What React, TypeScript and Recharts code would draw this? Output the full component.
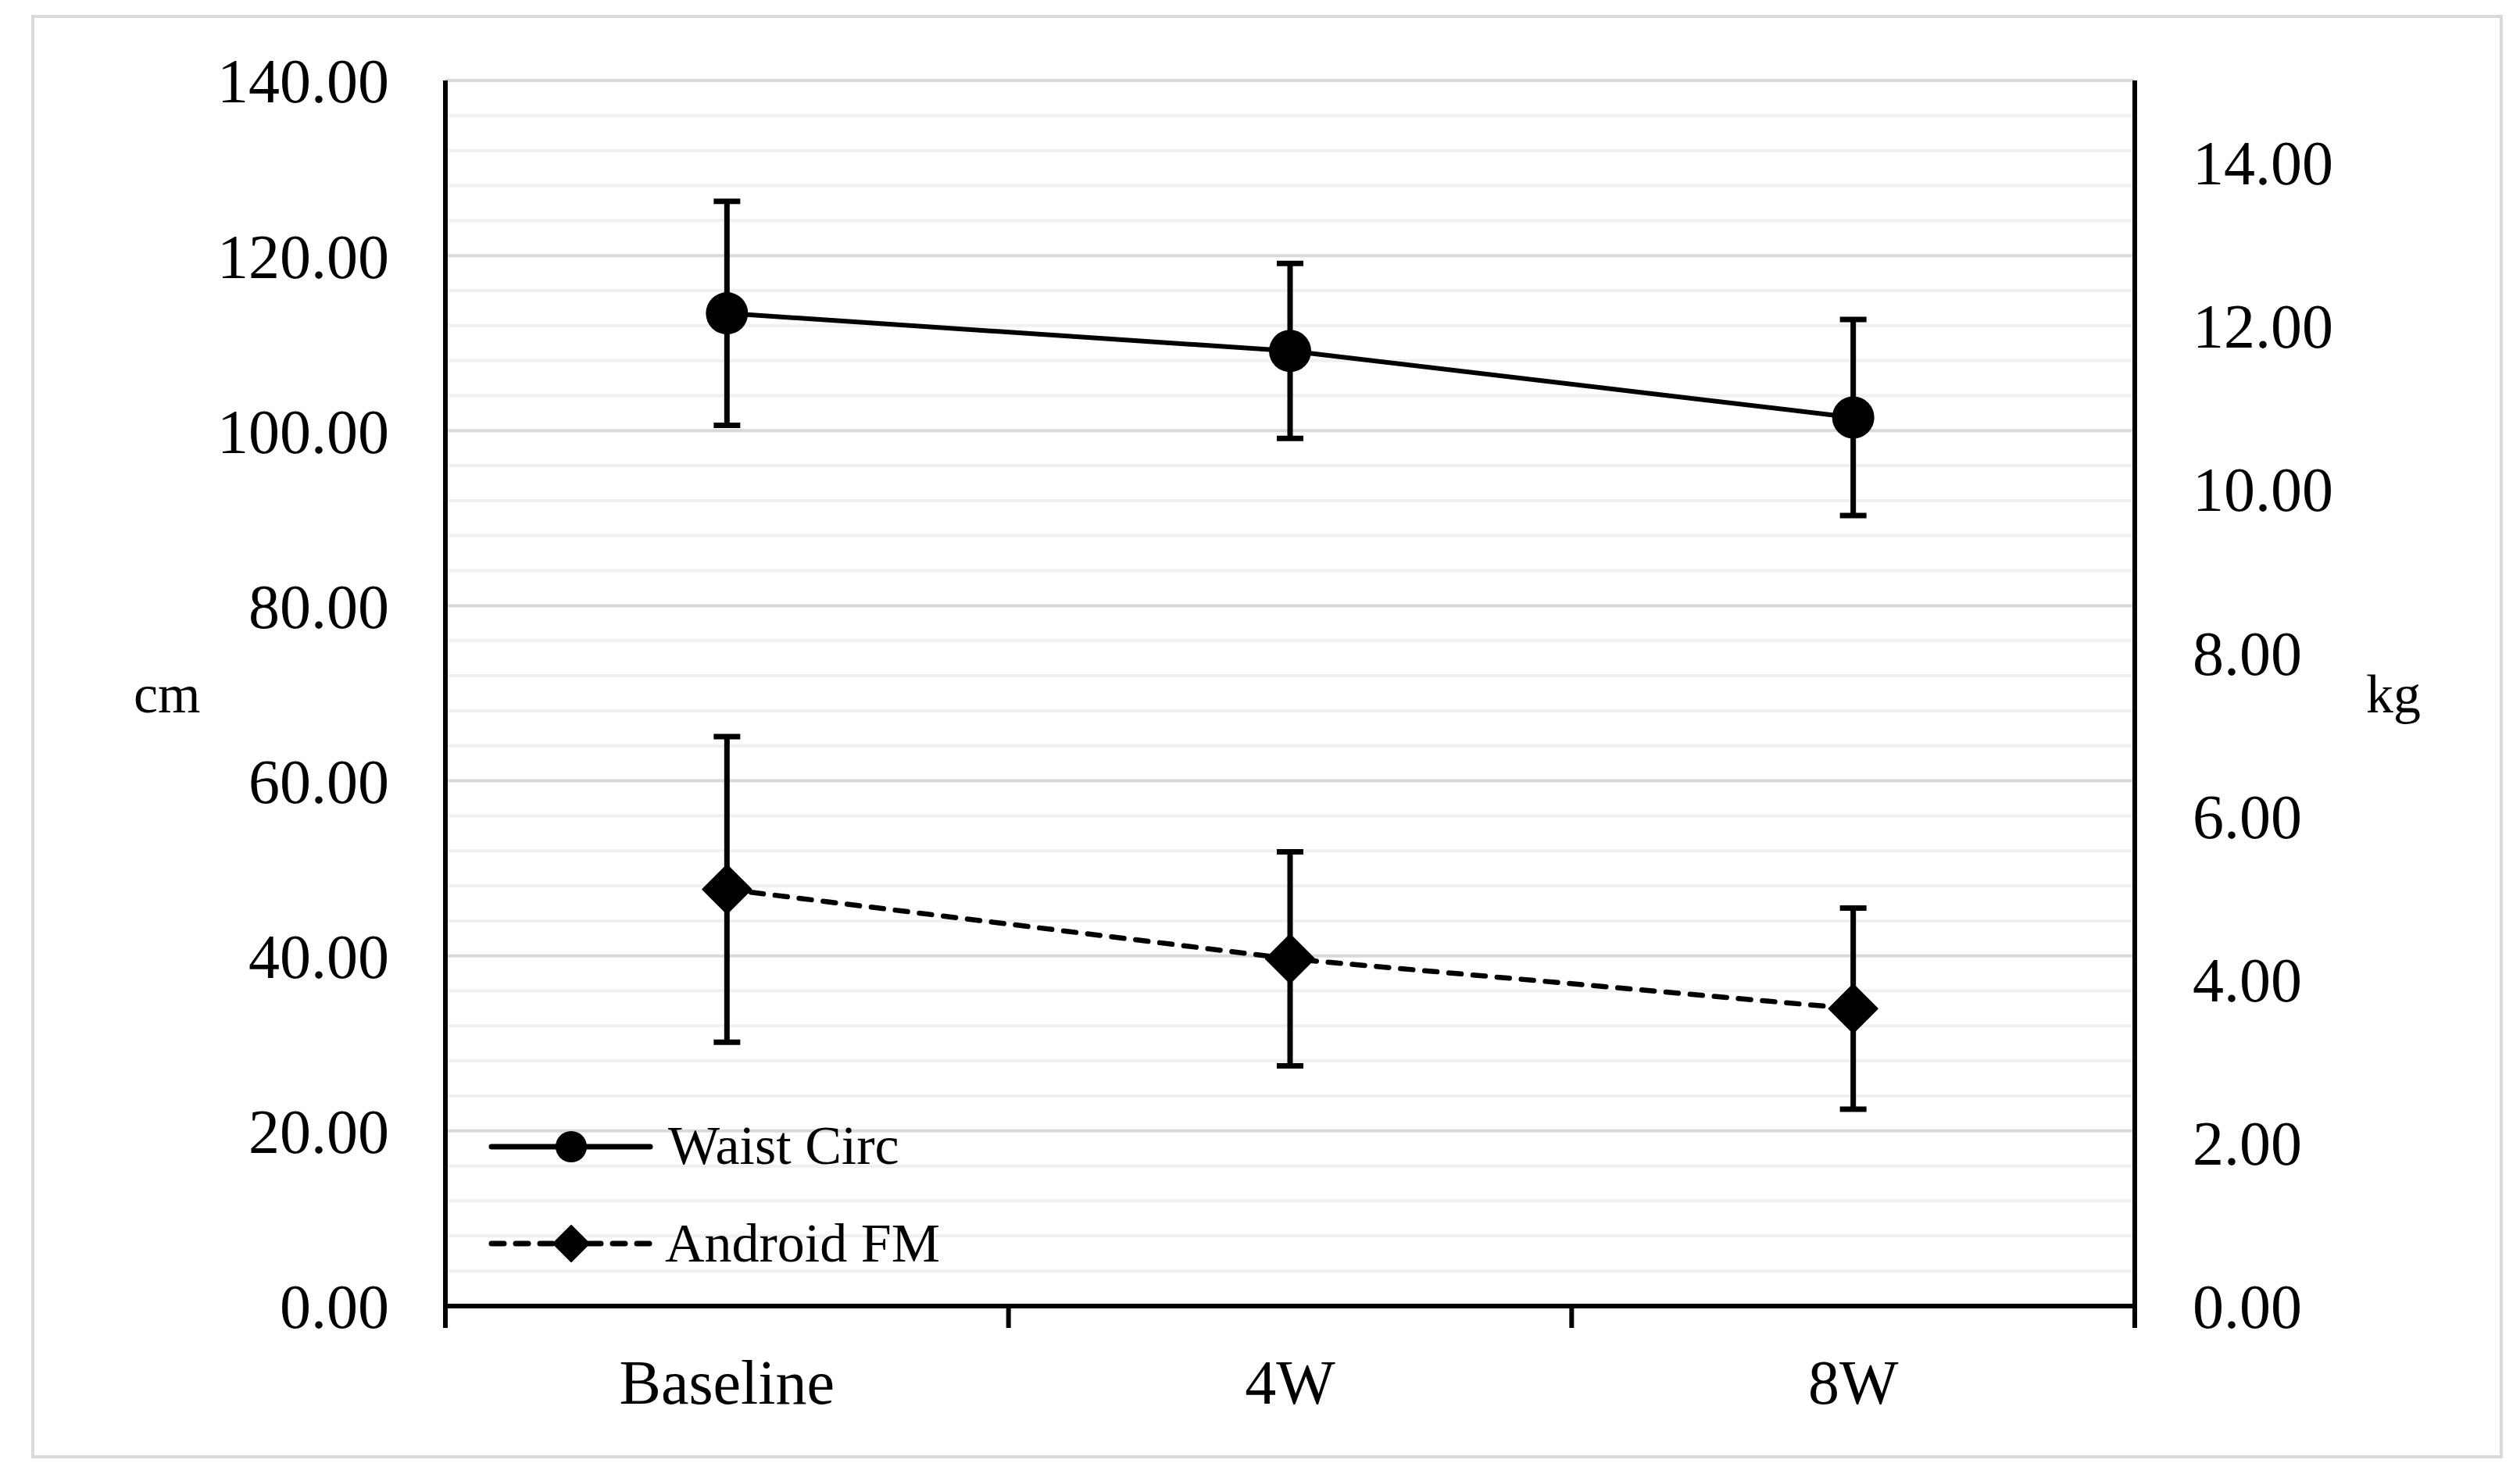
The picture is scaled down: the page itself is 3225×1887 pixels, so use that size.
import React from 'react'
import { ComposedChart, Line, XAxis, YAxis, CartesianGrid, ErrorBar } from 'recharts'

const W = 3225
const H = 1887
const FONT = "'Liberation Serif', 'Times New Roman', serif"

// time points
const categories = ['Baseline', '4W', '8W']
// waist circumference, cm (mean, sd)
const waistMean = [113.4, 109.1, 101.5]
const waistSd = [12.8, 10.0, 11.2]
// android fat mass, kg (mean, sd)
const fmMean = [5.1, 4.25, 3.64]
const fmSd = [1.87, 1.31, 1.23]

const seriesNames = ['Waist Circ', 'Android FM']
const cmTicks = [0, 20, 40, 60, 80, 100, 120, 140]
const cmMinorTicks = [
  4, 8, 12, 16, 24, 28, 32, 36, 44, 48, 52, 56, 64, 68, 72, 76, 84, 88, 92, 96, 104, 108, 112, 116,
  124, 128, 132, 136,
]
const kgTicks = [0, 2, 4, 6, 8, 10, 12, 14]

const data = categories.map((label, i) => ({
  label,
  waist: waistMean[i],
  waistSd: waistSd[i],
  fm: fmMean[i],
  fmSd: fmSd[i],
}))

const X_TICK_MARGIN = 68
const FRAME_TICK = 28

// category label plus the boundary ticks either side of the band
// eslint-disable-next-line @typescript-eslint/no-explicit-any
const CategoryTick = (props: any) => {
  const { x, y, payload, index, visibleTicksCount } = props
  const half = payload?.offset ?? 360
  const axisY = y - X_TICK_MARGIN
  return (
    <g>
      <line x1={x - half} y1={axisY} x2={x - half} y2={axisY + FRAME_TICK} stroke="#000" strokeWidth={6} />
      {index === visibleTicksCount - 1 && (
        <line x1={x + half} y1={axisY} x2={x + half} y2={axisY + FRAME_TICK} stroke="#000" strokeWidth={6} />
      )}
      <text x={x} y={y} dy="0.71em" textAnchor="middle" fill="#000" fontSize={80} fontFamily={FONT}>
        {payload.value}
      </text>
    </g>
  )
}

// eslint-disable-next-line @typescript-eslint/no-explicit-any
const DiamondDot = (props: any) => {
  const { cx, cy, index } = props
  if (cx == null || cy == null) return <g key={`d-${index}`} />
  const s = 31
  return (
    <path
      key={`d-${index}`}
      d={`M${cx},${cy - s}L${cx + s},${cy}L${cx},${cy + s}L${cx - s},${cy}Z`}
      fill="#000"
      stroke="#000"
      strokeWidth={2}
      strokeLinejoin="round"
    />
  )
}

function LegendBox() {
  // drawn in its own little svg, placed over the lower-left of the plot
  return (
    <svg
      width={700}
      height={230}
      style={{ position: 'absolute', left: 600, top: 1420, fontFamily: FONT }}
    >
      <line x1={29} y1={48} x2={232} y2={48} stroke="#000" strokeWidth={7} strokeLinecap="round" />
      <circle cx={131} cy={48} r={20} fill="#000" />
      <text x={255} y={70} fontSize={70} fill="#000">
        {seriesNames[0]}
      </text>
      <line
        x1={29}
        y1={172}
        x2={232}
        y2={172}
        stroke="#000"
        strokeWidth={7}
        strokeDasharray="16 15"
        strokeLinecap="round"
      />
      <path d="M131,149L154,172L131,195L108,172Z" fill="#000" stroke="#000" strokeWidth={2} strokeLinejoin="round" />
      <text x={251} y={195} fontSize={70} fill="#000">
        {seriesNames[1]}
      </text>
    </svg>
  )
}

export default function App() {
  const tickStyle = { fill: '#000', fontSize: 80, fontFamily: FONT }
  return (
    <div style={{ position: 'absolute', left: 0, top: 0, width: W, height: H, background: '#fff' }}>
      <div
        style={{
          position: 'absolute',
          left: 40,
          top: 19,
          width: 3163,
          height: 1848,
          border: '4px solid #d9d9d9',
          boxSizing: 'border-box',
        }}
      />
      <div style={{ position: 'absolute', left: 0, top: 0 }}>
        <ComposedChart width={W} height={H} data={data} margin={{ top: 103, right: 0, bottom: 65, left: 0 }}>
          <XAxis
            xAxisId="cat"
            dataKey="label"
            type="category"
            scale="band"
            height={150}
            interval={0}
            axisLine={{ stroke: '#000', strokeWidth: 6 }}
            tickLine={false}
            tickSize={0}
            tickMargin={X_TICK_MARGIN}
            tick={(p) => <CategoryTick {...p} />}
          />
          <YAxis
            yAxisId="cm"
            width={570}
            domain={[0, 140]}
            ticks={cmTicks}
            interval={0}
            tickFormatter={(v: number) => v.toFixed(2)}
            axisLine={{ stroke: '#000', strokeWidth: 6 }}
            tickLine={false}
            tickSize={0}
            tickMargin={72}
            tick={tickStyle}
            label={{ value: 'cm', position: 'insideLeft', offset: 171, fill: '#000', fontSize: 70, fontFamily: FONT }}
          />
          <YAxis
            yAxisId="kg"
            orientation="right"
            width={493}
            domain={[0, 15]}
            ticks={kgTicks}
            interval={0}
            tickFormatter={(v: number) => v.toFixed(2)}
            axisLine={{ stroke: '#000', strokeWidth: 6 }}
            tickLine={false}
            tickSize={0}
            tickMargin={74}
            tick={tickStyle}
            label={{ value: 'kg', position: 'insideLeft', offset: 296, fill: '#000', fontSize: 70, fontFamily: FONT }}
          />
          {/* minor grid every 4 cm, major grid every 20 cm */}
          <CartesianGrid
            xAxisId="cat"
            yAxisId="cm"
            vertical={false}
            horizontalValues={cmMinorTicks}
            stroke="#f0f0f0"
            strokeWidth={4}
          />
          <CartesianGrid xAxisId="cat" yAxisId="cm" vertical={false} stroke="#d9d9d9" strokeWidth={4} />
          <Line
            xAxisId="cat"
            yAxisId="cm"
            type="linear"
            dataKey="waist"
            name={seriesNames[0]}
            stroke="#000"
            strokeWidth={6}
            dot={{ r: 27, fill: '#000', stroke: '#000', strokeWidth: 0 }}
            activeDot={false}
            isAnimationActive={false}
          >
            <ErrorBar dataKey="waistSd" direction="y" width={17} stroke="#000" strokeWidth={7} isAnimationActive={false} />
          </Line>
          <Line
            xAxisId="cat"
            yAxisId="kg"
            type="linear"
            dataKey="fm"
            name={seriesNames[1]}
            stroke="#000"
            strokeWidth={6.5}
            strokeDasharray="16 15"
            strokeLinecap="round"
            dot={DiamondDot}
            activeDot={false}
            isAnimationActive={false}
          >
            <ErrorBar dataKey="fmSd" direction="y" width={17} stroke="#000" strokeWidth={7} isAnimationActive={false} />
          </Line>
        </ComposedChart>
      </div>
      <LegendBox />
    </div>
  )
}
